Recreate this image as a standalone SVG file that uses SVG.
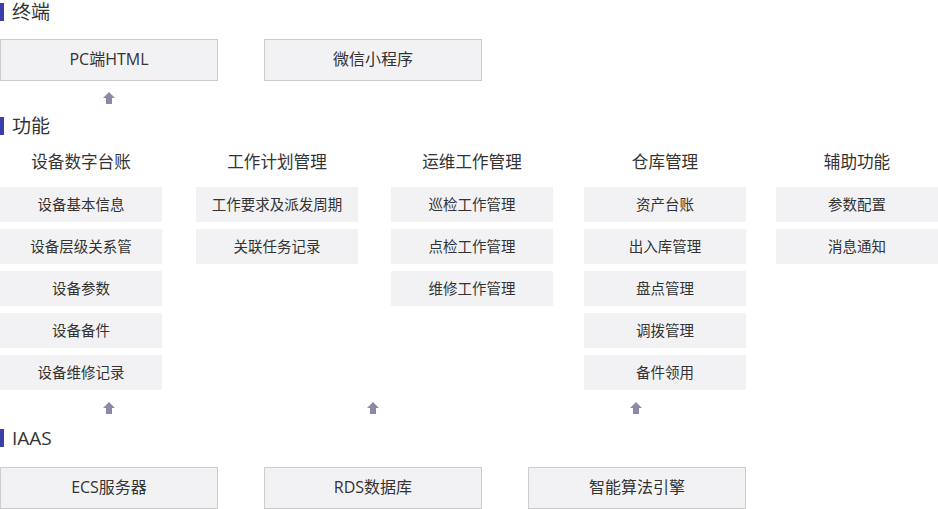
<svg xmlns="http://www.w3.org/2000/svg" width="938" height="509" viewBox="0 0 938 509">
<style>
text{font-family:"Open Sans","Noto Sans CJK SC",sans-serif;fill:#333;text-anchor:middle}
.sec{font-size:19px;text-anchor:start}
.hd{font-size:16.6px}
.bx{fill:#f2f2f4;stroke:#ccc;stroke-width:1}
.fb{fill:#f2f2f4}
.t{font-size:16px}
.s{font-size:14.5px}
.bar{fill:#3b3fa8}
.ar{fill:#8a8aa6}
</style>
<rect class="bar" x="0" y="3" width="4" height="18"/><text class="sec" x="12" y="19">终端</text>
<rect class="bar" x="0" y="117" width="4" height="18"/><text class="sec" x="12" y="133">功能</text>
<rect class="bar" x="0" y="429" width="4" height="18"/><text class="sec" x="12" y="445">IAAS</text>
<g id="pc"><rect class="bx" x="0.5" y="39.5" width="217" height="41"/><text class="t" x="109" y="65">PC端HTML</text></g>
<g id="wx"><rect class="bx" x="264.5" y="39.5" width="217" height="41"/><text class="t" x="373" y="65">微信小程序</text></g>
<g id="ecs"><rect class="bx" x="0.5" y="467.5" width="217" height="41"/><text class="t" x="109" y="493">ECS服务器</text></g>
<g id="rds"><rect class="bx" x="264.5" y="467.5" width="217" height="41"/><text class="t" x="373" y="493">RDS数据库</text></g>
<g id="ai"><rect class="bx" x="528.5" y="467.5" width="217" height="41"/><text class="t" x="637" y="493">智能算法引擎</text></g>
<g id="connectors">
<path class="ar" d="M109 92 L115 98 L112 98 L112 104 L106 104 L106 98 L103 98Z"/>
<path class="ar" d="M109 402 L115 408 L112 408 L112 414 L106 414 L106 408 L103 408Z"/>
<path class="ar" d="M373 402 L379 408 L376 408 L376 414 L370 414 L370 408 L367 408Z"/>
<path class="ar" d="M636 402 L642 408 L639 408 L639 414 L633 414 L633 408 L630 408Z"/>
</g>
<g id="col1"><text class="hd" x="81" y="168">设备数字台账</text>
<rect class="fb" x="0" y="187" width="162" height="35"/><text class="s" x="81" y="210">设备基本信息</text>
<rect class="fb" x="0" y="229" width="162" height="35"/><text class="s" x="81" y="252">设备层级关系管</text>
<rect class="fb" x="0" y="271" width="162" height="35"/><text class="s" x="81" y="294">设备参数</text>
<rect class="fb" x="0" y="313" width="162" height="35"/><text class="s" x="81" y="336">设备备件</text>
<rect class="fb" x="0" y="355" width="162" height="35"/><text class="s" x="81" y="378">设备维修记录</text></g>
<g id="col2"><text class="hd" x="277" y="168">工作计划管理</text>
<rect class="fb" x="196" y="187" width="162" height="35"/><text class="s" x="277" y="210">工作要求及派发周期</text>
<rect class="fb" x="196" y="229" width="162" height="35"/><text class="s" x="277" y="252">关联任务记录</text></g>
<g id="col3"><text class="hd" x="472" y="168">运维工作管理</text>
<rect class="fb" x="391" y="187" width="162" height="35"/><text class="s" x="472" y="210">巡检工作管理</text>
<rect class="fb" x="391" y="229" width="162" height="35"/><text class="s" x="472" y="252">点检工作管理</text>
<rect class="fb" x="391" y="271" width="162" height="35"/><text class="s" x="472" y="294">维修工作管理</text></g>
<g id="col4"><text class="hd" x="665" y="168">仓库管理</text>
<rect class="fb" x="584" y="187" width="162" height="35"/><text class="s" x="665" y="210">资产台账</text>
<rect class="fb" x="584" y="229" width="162" height="35"/><text class="s" x="665" y="252">出入库管理</text>
<rect class="fb" x="584" y="271" width="162" height="35"/><text class="s" x="665" y="294">盘点管理</text>
<rect class="fb" x="584" y="313" width="162" height="35"/><text class="s" x="665" y="336">调拨管理</text>
<rect class="fb" x="584" y="355" width="162" height="35"/><text class="s" x="665" y="378">备件领用</text></g>
<g id="col5"><text class="hd" x="857" y="168">辅助功能</text>
<rect class="fb" x="776" y="187" width="162" height="35"/><text class="s" x="857" y="210">参数配置</text>
<rect class="fb" x="776" y="229" width="162" height="35"/><text class="s" x="857" y="252">消息通知</text></g>
</svg>
